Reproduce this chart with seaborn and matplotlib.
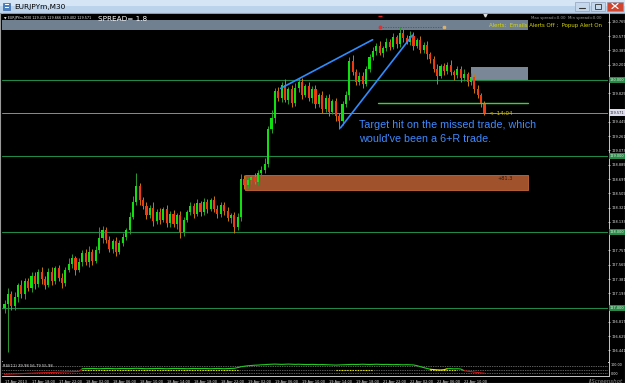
import numpy as np
import pandas as pd
import matplotlib
matplotlib.use("Agg")
import matplotlib.pyplot as plt
import seaborn as sns
from matplotlib.patches import Rectangle

# ---------------- data ----------------
first_open = 127.00
closes = [
    127.05, 127.18, 127.02, 127.15, 127.30, 127.18, 127.35, 127.26, 127.42, 127.32,
    127.48, 127.38, 127.30, 127.47, 127.36, 127.52, 127.40, 127.33, 127.50, 127.58,
    127.66, 127.50, 127.60, 127.72, 127.60, 127.74, 127.62, 127.76, 127.92, 128.02,
    127.90, 127.78, 127.88, 127.74, 127.86, 127.94, 128.02, 128.20, 128.40, 128.60,
    128.42, 128.34, 128.22, 128.32, 128.14, 128.26, 128.16, 128.30, 128.12, 128.24,
    128.10, 128.22, 128.00, 128.16, 128.26, 128.34, 128.24, 128.38, 128.26, 128.40,
    128.30, 128.42, 128.30, 128.24, 128.36, 128.28, 128.18, 128.22, 128.06, 128.20,
    128.70, 128.62, 128.68, 128.72, 128.66, 128.78, 128.82, 128.90, 129.35, 129.50,
    129.85, 129.76, 129.94, 129.74, 129.88, 129.70, 129.90, 129.98, 129.80, 129.92,
    129.76, 129.88, 129.68, 129.80, 129.62, 129.76, 129.58, 129.72, 129.52, 129.46,
    129.68, 129.80, 130.25, 130.10, 129.98, 130.05, 129.95, 130.15, 130.30, 130.38,
    130.45, 130.36, 130.42, 130.50, 130.44, 130.56, 130.48, 130.62, 130.55, 130.50,
    130.58, 130.45, 130.52, 130.40, 130.46, 130.34, 130.28, 130.15, 130.05, 130.18,
    130.12, 130.20, 130.10, 130.06, 130.14, 130.02, 130.08, 129.98, 130.04, 129.88,
    129.80, 129.70, 129.57]
wick_up = [  # hundredths of a yen above the body
    5, 8, 4, 6, 3, 7, 5, 4, 6, 5,   3, 6, 4, 5, 7, 3, 5, 6, 4, 8,
    5, 3, 6, 4, 5, 7, 4, 6, 15, 6,  4, 5, 3, 6, 4, 5, 3, 6, 8, 18,
    5, 4, 6, 3, 7, 4, 5, 3, 6, 4,   5, 3, 6, 4, 3, 5, 4, 6, 3, 5,
    4, 3, 5, 6, 3, 4, 5, 3, 4, 5,   6, 5, 4, 3, 6, 4, 5, 8, 4, 10,
    5, 6, 4, 7, 3, 5, 6, 4, 5, 3,   6, 4, 5, 3, 6, 4, 5, 3, 4, 5,
    4, 6, 5, 8, 4, 6, 5, 3, 4, 5,   4, 6, 3, 5, 4, 6, 3, 8, 5, 4,
    6, 5, 3, 6, 4, 5, 3, 4, 6, 3,   5, 4, 6, 3, 5, 4, 6, 3, 5, 4,
    6, 3, 2]
wick_dn = [  # hundredths of a yen below the body
    6, 63, 5, 4, 7, 5, 6, 4, 5, 7,  4, 6, 5, 3, 6, 4, 5, 7, 4, 3,
    5, 6, 3, 5, 4, 6, 5, 3, 4, 6,   5, 4, 6, 5, 3, 4, 5, 4, 3, 5,
    6, 4, 5, 3, 6, 4, 5, 3, 6, 5,   4, 6, 8, 5, 3, 4, 6, 3, 5, 4,
    5, 3, 4, 6, 4, 5, 3, 6, 7, 4,   5, 6, 4, 5, 3, 4, 6, 5, 4, 5,
    6, 4, 5, 3, 6, 5, 4, 6, 5, 3,   4, 6, 5, 3, 6, 4, 5, 3, 6, 10,
    5, 4, 6, 3, 5, 4, 6, 3, 5, 4,   5, 3, 6, 4, 5, 3, 6, 4, 5, 3,
    4, 6, 3, 5, 4, 6, 5, 4, 10, 3,  5, 4, 3, 6, 4, 5, 3, 6, 4, 5,
    4, 5, 3]
indicator = [
    12, 13, 14, 15, 16, 17, 18, 19, 20, 21, 22, 23, 24, 24, 25, 26, 27, 28, 29, 30, 31, 32, 33,
    52, 53, 53, 54, 53, 52, 53, 54, 54, 53, 52, 53, 54, 53, 53, 54, 55, 54, 53, 52, 53, 53, 54,
    54, 53, 52, 53, 54, 54, 53, 53, 52, 53, 54, 53, 53, 54, 53, 52, 53, 54, 53, 52, 53, 54, 55,
    60, 66, 70, 73, 75, 77, 78, 80, 81, 83, 84, 85, 84, 83, 84, 85, 84, 83, 84, 83, 82,
    82, 83, 82, 81, 82, 81, 80, 79, 78, 79, 80, 81, 82, 83, 82, 83, 84, 83, 82, 83, 84, 83,
    82, 83, 82, 81, 82, 81, 80, 81, 80, 79,
    74, 67, 60, 54, 48, 46, 44, 43, 45,
    52, 53, 51, 52, 50,
    38, 34, 31, 28, 25, 22, 20]
signal_start = [23, 98, 126]
signal_end = [69, 109, 134]
signal_level = [40, 40, 40]
ind_levels = [70, 40, 20]

level_lines = [130.0, 129.0, 128.0, 127.0]
level_labels = ["130.000", "129.000", "128.000", "127.000"]
bid_price = 129.571
bid_label = "129.571"
tick_prices = [130.765, 130.577, 130.389, 130.201, 130.013, 129.825, 129.637, 129.449,
               129.261, 129.073, 128.885, 128.697, 128.509, 128.321, 128.133, 127.945,
               127.757, 127.569, 127.381, 127.193, 127.005, 126.817, 126.629, 126.441]
time_pos = [0, 8, 16, 24, 32, 40, 48, 56, 64, 72, 80, 88, 96, 104, 112, 120, 128, 136]
time_labels = ["17 Apr 2013", "17 Apr 18:00", "17 Apr 22:00", "18 Apr 02:00", "18 Apr 06:00",
               "18 Apr 10:00", "18 Apr 14:00", "18 Apr 18:00", "18 Apr 22:00", "19 Apr 02:00",
               "19 Apr 06:00", "19 Apr 10:00", "19 Apr 14:00", "19 Apr 18:00", "21 Apr 22:00",
               "22 Apr 02:00", "22 Apr 06:00", "22 Apr 10:00"]

# chart objects (time index, price)
orange_box = (71.3, 155.0, 128.55, 128.75)
gray_box = (137.9, 155.0, 130.00, 130.17)
top_band = (-1.0, 155.0, 130.658, 130.789)
target_line = (110.4, 155.0, 129.70)
trend1 = ([81.7, 108.9], [129.89, 130.53])
trend2 = ([99.4, 120.7], [129.37, 130.59])
red_dash = (111.2, 129.9, 130.697)

# ---------------- style ----------------
sns.set_style("dark")
plt.rcParams['font.family'] = ['DejaVu Sans']
plt.rcParams['axes.grid'] = False

W, H = 625, 383
fig = plt.figure(figsize=(6.25, 3.83), dpi=100, facecolor='black')


def rect(x0, y0, x1, y1):
    return [x0 / W, 1 - y1 / H, (x1 - x0) / W, (y1 - y0) / H]


bg = fig.add_axes([0, 0, 1, 1])
bg.set_xlim(0, W)
bg.set_ylim(H, 0)
bg.axis('off')
bg.add_patch(Rectangle((0, 0), W, 6, color='#d6e5f5', lw=0))
bg.add_patch(Rectangle((0, 6), W, 6.5, color='#bcd3ec', lw=0))
bg.add_patch(Rectangle((3, 2.5), 7, 7, fc='#4a7fc0', ec='#2a5a9a', lw=0.4))
bg.add_patch(Rectangle((4.5, 4), 4, 1, fc='white', lw=0))
bg.add_patch(Rectangle((4.5, 6.5), 4, 1, fc='white', lw=0))
bg.text(14, 6.5, "EURJPYm,M30", fontsize=5.3, color='black', va='center', ha='left')
for (x0, x1, fc) in [(575, 589, '#c5d7ea'), (591, 605, '#c5d7ea'), (607, 623, '#d2452e')]:
    bg.add_patch(Rectangle((x0, 1.5), x1 - x0, 9, fc=fc, ec='#7f95b0', lw=0.4))
bg.plot([579, 585], [7.5, 7.5], color='#333333', lw=0.8)
bg.add_patch(Rectangle((595, 4), 6, 4.5, fc='none', ec='#333333', lw=0.6))
bg.plot([612, 618], [3.5, 8.5], color='white', lw=0.9)
bg.plot([612, 618], [8.5, 3.5], color='white', lw=0.9)
bg.add_patch(Rectangle((0, 12.5), W, H - 12.5, fc='black', ec='#9a9a9a', lw=0.8))

XMIN, XMAX = -0.74, 178.55
PTOP = 130.0 + (80 - 14) / 76
PBOT = 130.0 - (361 - 80) / 76

ax = fig.add_axes(rect(2, 14, 608, 361))
ax.set_facecolor('black')
ax.set_xlim(XMIN, XMAX)
ax.set_ylim(PBOT, PTOP)
for s in ax.spines.values():
    s.set_visible(False)

# chart objects behind candles
ax.add_patch(Rectangle((top_band[0], top_band[2]), top_band[1] - top_band[0],
                       top_band[3] - top_band[2], fc='#708090', lw=0, zorder=0))
ax.add_patch(Rectangle((orange_box[0], orange_box[2]), orange_box[1] - orange_box[0],
                       orange_box[3] - orange_box[2], fc='#a0522d', ec='#c8683a', lw=0.6, zorder=0))
ax.text(150.5, 128.70, "+81.3", fontsize=3.6, color='#2a1a10', ha='right', va='center')
ax.add_patch(Rectangle((gray_box[0], gray_box[2]), gray_box[1] - gray_box[0],
                       gray_box[3] - gray_box[2], fc='#7a8796', lw=0, zorder=0))
for lv in level_lines:
    ax.axhline(lv, color='#22884a', lw=0.8, zorder=0.5)
ax.axhline(bid_price, color='#8c8c8c', lw=0.7, zorder=0.5)

# candles
opens = [first_open] + closes[:-1]
idx = np.arange(len(closes))
highs = [max(o, c) + u / 100 for o, c, u in zip(opens, closes, wick_up)]
lows = [min(o, c) - d / 100 for o, c, d in zip(opens, closes, wick_dn)]
df = pd.DataFrame({'i': idx, 'open': opens, 'close': closes, 'high': highs, 'low': lows})
df['bull'] = df['close'] >= df['open']
for bull, g in df.groupby('bull'):
    wick_c = '#2f9a2f' if bull else '#c77a10'
    body_c = '#10e010' if bull else '#f03a12'
    ax.vlines(g['i'], g['low'], g['high'], color=wick_c, lw=0.7, zorder=2)
    bottom = np.minimum(g['open'], g['close'])
    height = np.maximum(np.abs(g['close'] - g['open']), 0.012)
    ax.bar(g['i'], height, bottom=bottom, width=0.62, color=body_c, lw=0, zorder=3)

# drawn objects
ax.plot([target_line[0], target_line[1]], [target_line[2]] * 2, color='#3ad23a', lw=1.0, zorder=4)
ax.plot(trend1[0], trend1[1], color='#2f8cff', lw=1.2, zorder=4)
ax.plot(trend2[0], trend2[1], color='#2f8cff', lw=1.2, zorder=4)
ax.plot([red_dash[0], red_dash[1]], [red_dash[2]] * 2, color='#d02020', lw=0.6, ls=(0, (1.5, 1.5)), zorder=4)
ax.plot([red_dash[0]], [red_dash[2]], 'o', ms=1.8, color='#e03030', zorder=5)
ax.plot([red_dash[1]], [red_dash[2]], 's', ms=1.6, color='#d8b070', zorder=5)
ax.plot([111.2], [130.84], marker='_', ms=3, color='#e02020', zorder=5)
ax.plot([142.2], [130.85], marker='v', ms=2.2, color='#dddddd', zorder=5)

ax.text(104.8, 129.316, "Target hit on the missed trade, which\nwould've been a 6+R trade.",
        fontsize=7.75, color='#3f8aff', family=['Liberation Sans', 'DejaVu Sans'],
        ha='left', va='center', linespacing=1.4, zorder=6)
ax.text(143.3, 129.555, "<--14:04", fontsize=4.0, color='#d0c000', ha='left', va='center', zorder=6)

# header texts
ax.text(0.004, 0.993, "\u25bc EURJPYm,M30 129.415 129.666 129.402 129.571", transform=ax.transAxes,
        fontsize=2.45, color='#e8e8e8', ha='left', va='top')
ax.text(0.158, 0.995, "SPREAD= 1.8", transform=ax.transAxes, fontsize=5.2, color='white',
        ha='left', va='top')
ax.text(0.99, 0.975, "Alerts:  Emails Alerts Off ;  Popup Alert On", transform=ax.transAxes,
        fontsize=3.9, color='#d8d800', ha='right', va='top', zorder=6)
ax.text(0.99, 0.995, "Max spread=0.00  Min spread=0.00", transform=ax.transAxes,
        fontsize=2.8, color='#9a9a9a', ha='right', va='top', zorder=5)

# price axis (labels hidden where a level/bid label sits on top, as in the terminal)
marked = level_lines + [bid_price]
shown_ticks = [p for p in tick_prices if min(abs(p - m) for m in marked) > 0.07]
ax.yaxis.tick_right()
ax.set_yticks(shown_ticks)
ax.set_yticklabels([f"{p:.3f}" for p in shown_ticks])
ax.tick_params(axis='y', colors='#e8e8e8', labelsize=2.5, length=1.5, width=0.5, pad=0.8)
ax.set_xticks([])
ytr = ax.get_yaxis_transform()
for lv, lab in zip(level_lines, level_labels):
    ax.text(1.003, lv, lab, transform=ytr, fontsize=2.5, color='#e8ffe8', ha='left', va='center',
            bbox=dict(boxstyle='square,pad=0.35', fc='#2a8a4a', ec='none'), zorder=7, clip_on=False)
ax.text(1.003, bid_price, bid_label, transform=ytr, fontsize=2.5, color='#202020', ha='left',
        va='center', bbox=dict(boxstyle='square,pad=0.35', fc='#dcdcec', ec='none'), zorder=7,
        clip_on=False)

# indicator panel
ind = fig.add_axes(rect(2, 362, 608, 376))
ind.set_facecolor('black')
ind.set_xlim(XMIN, XMAX)
ind.set_ylim(0, 100)
for s in ind.spines.values():
    s.set_visible(False)
for lv in ind_levels:
    ind.axhline(lv, color='#bbbbbb', lw=0.5, ls=(0, (1, 1.5)))
for s0, s1, lv in zip(signal_start, signal_end, signal_level):
    ind.plot([s0, s1], [lv, lv], color='#e8e800', lw=0.8, ls=(0, (1.2, 1.2)))
vals = np.array(indicator, dtype=float)
cols = np.where(vals >= 50, '#22cc22', np.where(vals >= 40, '#e8e800', '#cc1111'))
start = 0
for k in range(1, len(vals) + 1):
    if k == len(vals) or cols[k] != cols[start]:
        end = min(k, len(vals) - 1)
        seg = pd.DataFrame({'i': np.arange(start, end + 1), 'v': vals[start:end + 1]})
        sns.lineplot(data=seg, x='i', y='v', color=cols[start], lw=0.8, ax=ind)
        start = k
ind.set_xlabel('')
ind.set_ylabel('')
ind.set_yticks([])
ind.set_xticks(time_pos)
ind.set_xticklabels(time_labels)
ind.tick_params(axis='x', colors='#e8e8e8', labelsize=2.5, length=2, width=0.5, pad=1)
for t in ind.get_xticklabels():
    t.set_horizontalalignment('left')
ind.text(0.002, 0.88, "RSI(11) 39.98 56.79 55.98", transform=ind.transAxes, fontsize=2.7,
         color='#e8e8e8', ha='left', va='top')

# frame lines
bg.plot([608.5, 608.5], [13, 376], color='#c8c8c8', lw=0.7)
bg.plot([2, 608.5], [361.5, 361.5], color='#c8c8c8', lw=0.7)
bg.plot([2, 608.5], [376.3, 376.3], color='#c8c8c8', lw=0.7)
bg.plot([2, 2], [13, 376], color='#c8c8c8', lw=0.5)
bg.text(611, 365, "100.00", fontsize=2.4, color='#e8e8e8', va='center')
bg.text(611, 374, "0.00", fontsize=2.4, color='#e8e8e8', va='center')
bg.text(623, 381, "JJScreenshot", fontsize=4.0, color='#8a8a8a', ha='right', va='center',
        style='italic')

fig.savefig("out.png", dpi=100, facecolor='black')
